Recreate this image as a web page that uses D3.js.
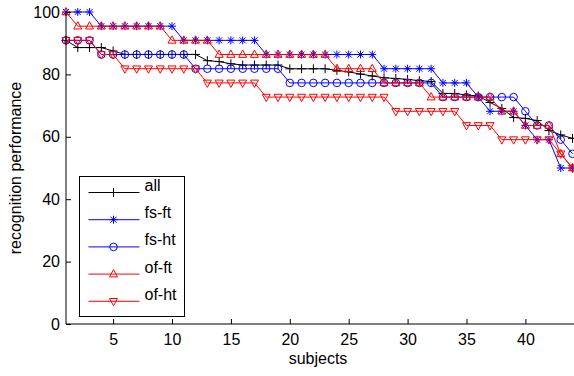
<!DOCTYPE html>
<html>
<head>
<meta charset="utf-8">
<script src="https://cdn.jsdelivr.net/npm/d3@7"></script>
<style>
  html, body { margin: 0; padding: 0; background: #fff; }
  svg { display: block; }
</style>
</head>
<body>
<svg id="chart" width="574" height="376"></svg>
<script>
// Data (percent, subjects 1..44)
const subjects = d3.range(1, 45)
const all = [90.9, 88.6, 88.6, 88.6, 87.5, 86.4, 86.4, 86.4, 86.4, 86.4, 86.4, 86.4, 84.4, 84.1, 83.4, 83.0, 83.0, 83.0, 83.0, 81.8, 81.8, 81.8, 81.8, 81.3, 80.8, 80.1, 79.5, 78.9, 78.7, 78.4, 78.0, 77.7, 73.9, 73.9, 73.4, 73.1, 71.0, 69.1, 66.2, 65.9, 65.2, 62.0, 60.6, 59.5]
// the four other series are counts out of 22 test images
const fsFt = [22, 22, 22, 21, 21, 21, 21, 21, 21, 21, 20, 20, 20, 20, 20, 20, 20, 19, 19, 19, 19, 19, 19, 19, 19, 19, 19, 18, 18, 18, 18, 18, 17, 17, 17, 16, 15, 15, 15, 14, 13, 13, 11, 11]
const fsHt = [20, 20, 20, 19, 19, 19, 19, 19, 19, 19, 19, 18, 18, 18, 18, 18, 18, 18, 18, 17, 17, 17, 17, 17, 17, 17, 17, 17, 17, 17, 17, 17, 16, 16, 16, 16, 16, 16, 16, 15, 14, 14, 13, 12]
const ofFt = [22, 21, 21, 21, 21, 21, 21, 21, 21, 20, 20, 20, 20, 19, 19, 19, 19, 19, 19, 19, 19, 19, 19, 18, 18, 18, 18, 17, 17, 17, 17, 16, 16, 16, 16, 16, 16, 15, 15, 14, 14, 14, 12, 11]
const ofHt = [20, 20, 20, 19, 19, 18, 18, 18, 18, 18, 18, 18, 17, 17, 17, 17, 17, 16, 16, 16, 16, 16, 16, 16, 16, 16, 16, 16, 15, 15, 15, 15, 15, 15, 14, 14, 14, 13, 13, 13, 13, 13, 12, 11]
const xTicks = [5, 10, 15, 20, 25, 30, 35, 40]
const yTicks = [0, 20, 40, 60, 80, 100]

const pct = k => k / 22 * 100
const series = [
  { name: "all", color: "#000000", marker: "plus", values: all },
  { name: "fs-ft", color: "#0000ff", marker: "star", values: fsFt.map(pct) },
  { name: "fs-ht", color: "#0000ff", marker: "circle", values: fsHt.map(pct) },
  { name: "of-ft", color: "#ff0000", marker: "up", values: ofFt.map(pct) },
  { name: "of-ht", color: "#ff0000", marker: "down", values: ofHt.map(pct) },
]

// Layout
const margin = { top: 12, left: 66, right: 1, bottom: 52 }
const width = 574, height = 376
const font = "'Liberation Sans', Arial, Helvetica, sans-serif"
const fontsize = "16px"
const svg = d3.select("#chart")

const x = d3.scaleLinear().domain([1, 44]).range([margin.left, width - margin.right - 0.5])
const y = d3.scaleLinear().domain([0, 100]).range([height - margin.bottom, margin.top])

// Marker paths
const markers = {
  plus: "M-4.5,0H4.5M0,-4.5V4.5",
  star: "M-4,0H4M0,-4V4M-3,-3L3,3M-3,3L3,-3",
  circle: "M3.8,0A3.8,3.8 0 1,1 -3.8,0A3.8,3.8 0 1,1 3.8,0Z",
  up: "M0,-4.5L4,2.8L-4,2.8Z",
  down: "M0,4.5L4,-2.8L-4,-2.8Z",
}

// Series
const line = d3.line().x((d, i) => x(subjects[i])).y(d => y(d))
for (const s of series) {
  svg.append("path")
    .datum(s.values)
    .attr("d", line)
    .attr("fill", "none")
    .attr("stroke", s.color)
    .attr("stroke-width", 1)
  svg.append("g")
    .selectAll("path")
    .data(s.values)
    .join("path")
    .attr("transform", (d, i) => `translate(${x(subjects[i])},${y(d)})`)
    .attr("d", markers[s.marker])
    .attr("fill", "none")
    .attr("stroke", s.color)
    .attr("stroke-width", 1)
}

// Axes
svg.append("g")
  .attr("transform", `translate(0,${y(0)})`)
  .call(d3.axisBottom(x).tickValues(xTicks).tickSize(-5).tickPadding(10))
  .call(g => g.select(".domain").attr("d", `M${x(1)},0H${width}`))
  .selectAll("text")
  .style("font-family", font)
  .style("font-size", fontsize)
  .attr("fill", "#000")

svg.append("g")
  .attr("transform", `translate(${x(1)},0)`)
  .call(d3.axisLeft(y).tickValues(yTicks).tickSize(-5).tickPadding(6))
  .call(g => g.select(".domain").attr("d", `M0,${y(0)}V${y(100)}`))
  .selectAll("text")
  .style("font-family", font)
  .style("font-size", fontsize)
  .attr("fill", "#000")

// Axis labels
svg.append("text")
  .attr("x", 318)
  .attr("y", 364)
  .attr("text-anchor", "middle")
  .style("font-family", font)
  .style("font-size", fontsize)
  .text("subjects")

svg.append("text")
  .attr("transform", `translate(21,${(y(0) + y(100)) / 2}) rotate(-90)`)
  .attr("text-anchor", "middle")
  .style("font-family", font)
  .style("font-size", fontsize)
  .text("recognition performance")

// Legend
const legend = svg.append("g").attr("transform", "translate(79.5,176.5)")
legend.append("rect")
  .attr("width", 105)
  .attr("height", 140)
  .attr("fill", "#fff")
  .attr("stroke", "#000")
series.forEach((s, i) => {
  const g = legend.append("g").attr("transform", `translate(0,${16 + i * 27.2})`)
  g.append("line").attr("x1", 9).attr("x2", 60).attr("stroke", s.color)
  g.append("path")
    .attr("transform", "translate(34,0)")
    .attr("d", markers[s.marker])
    .attr("fill", "none")
    .attr("stroke", s.color)
  g.append("text")
    .attr("x", 65)
    .attr("y", 0)
    .attr("dy", "-0.1em")
    .style("font-family", font)
    .style("font-size", fontsize)
    .text(s.name)
})
</script>
</body>
</html>
